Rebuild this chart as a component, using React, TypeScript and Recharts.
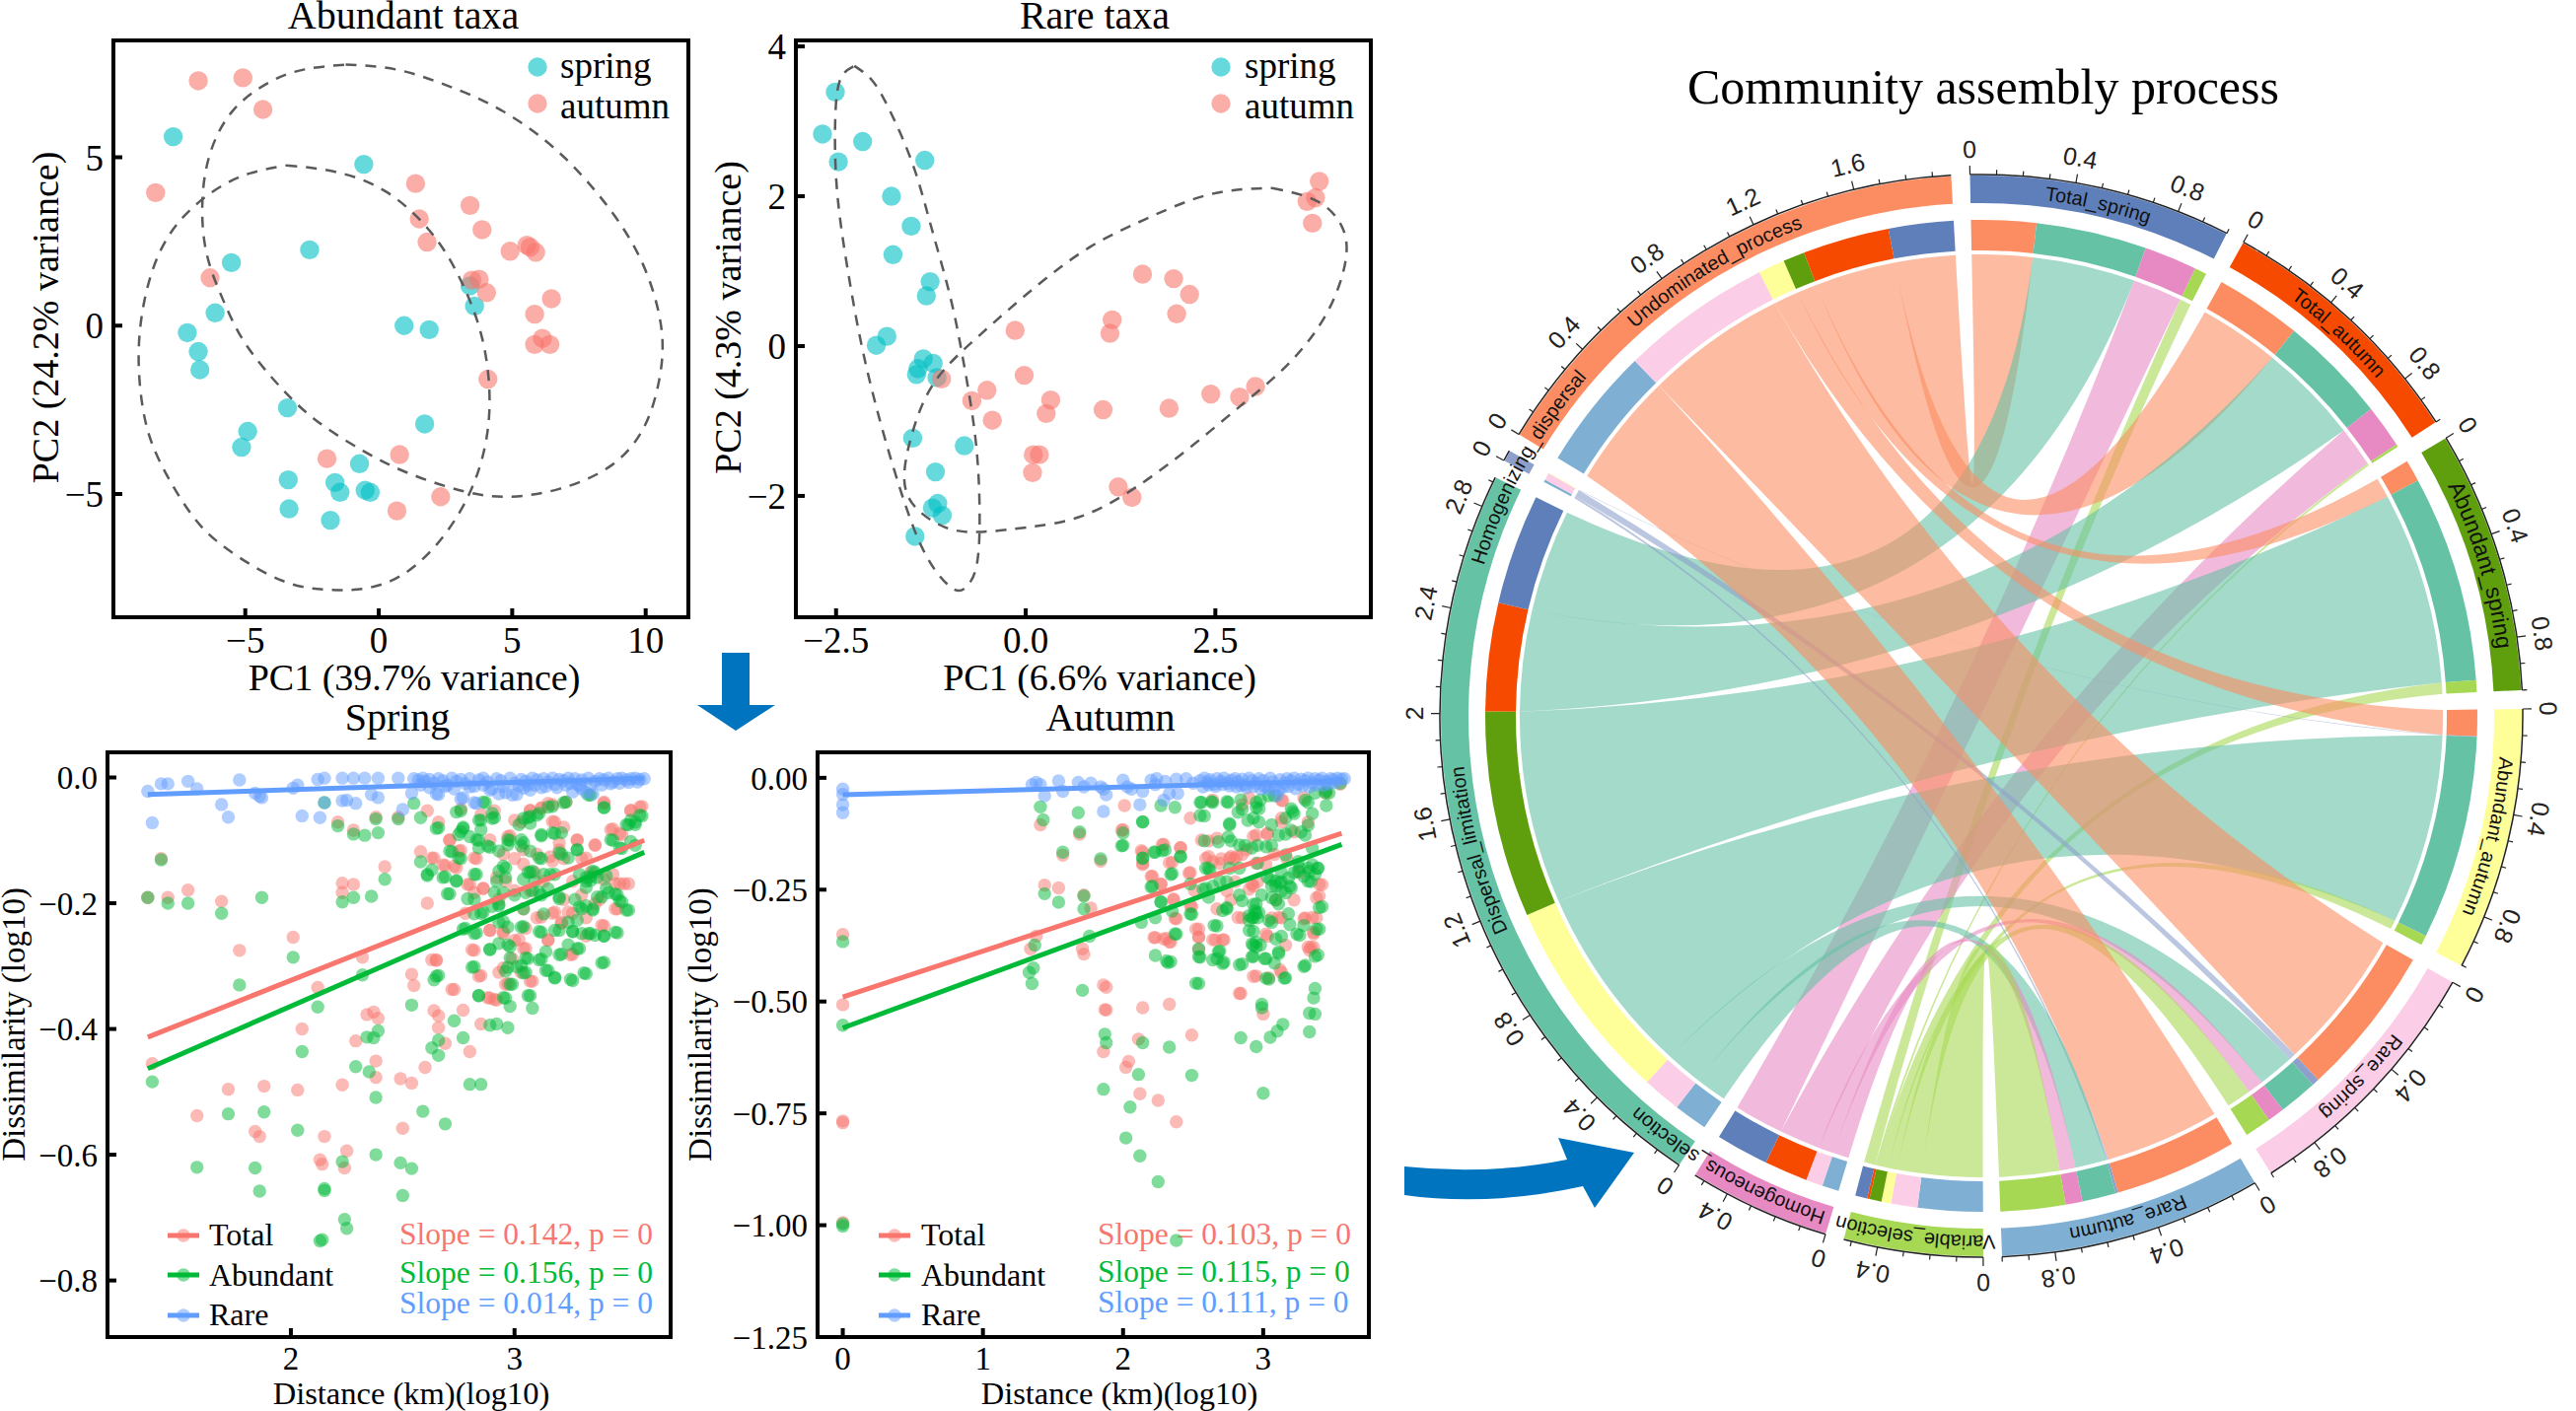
import { ScatterChart, Scatter, XAxis, YAxis, ReferenceArea, PieChart, Pie, Cell } from "recharts";

const W = 2612;
const H = 1431;
const SERIF = "Liberation Serif";
const SANS = "Liberation Sans";

type Pt = [number, number];

// PCA, abundant taxa
const abundantSpring: Pt[] = [[-7.7,5.61],[-.56,4.79],[-2.59,2.25],[-5.52,1.87],[-6.13,.38],[-7.17,-.21],[-6.76,-.77],[-6.7,-1.31],[.95,0],[1.89,-.12],[3.42,1.18],[3.59,.58],[-3.42,-2.44],[1.72,-2.92],[-4.91,-3.14],[-5.14,-3.61],[-.72,-4.1],[-3.39,-4.58],[-1.64,-4.66],[-1.45,-4.95],[-.51,-4.89],[-.32,-4.95],[-3.36,-5.44],[-1.81,-5.78]];
const abundantAutumn: Pt[] = [[-6.76,7.27],[-5.09,7.36],[-4.34,6.42],[-8.36,3.95],[1.38,4.22],[1.52,3.17],[1.81,2.48],[3.42,3.57],[3.87,2.85],[4.92,2.21],[5.55,2.39],[5.67,2.33],[5.88,2.18],[-6.32,1.42],[3.49,1.35],[3.76,1.38],[4.04,.98],[6.47,.8],[5.84,.34],[6.13,-.38],[5.84,-.56],[6.41,-.56],[4.09,-1.59],[.78,-3.83],[-1.94,-3.95],[2.32,-5.08],[.68,-5.5]];
const abundantEllipseAutumn: Pt[] = [[-1.24,7.75],[.63,7.61],[2.5,7.15],[4.38,6.49],[6.25,5.49],[7.79,4.3],[9.15,2.9],[10.09,1.45],[10.6,-.15],[10.51,-1.6],[9.91,-3.06],[8.64,-4.19],[6.76,-4.85],[4.89,-5.08],[3.19,-4.92],[1.14,-4.39],[-.56,-3.73],[-2.27,-2.86],[-3.63,-1.87],[-4.99,-.54],[-5.84,.78],[-6.44,2.11],[-6.61,3.57],[-6.35,5.03],[-5.5,6.35],[-4.14,7.21],[-2.78,7.61],[-1.24,7.75]];
const abundantEllipseSpring: Pt[] = [[-3.46,4.76],[-1.58,4.56],[.29,3.97],[1.82,2.9],[2.84,1.71],[3.7,.12],[4.12,-1.6],[4.04,-3.33],[3.36,-5.05],[2.16,-6.51],[.8,-7.44],[-.56,-7.81],[-1.93,-7.84],[-3.63,-7.57],[-5.67,-6.64],[-7.04,-5.58],[-8.23,-3.99],[-8.82,-2.53],[-8.99,-.68],[-8.65,1.18],[-7.89,2.64],[-6.69,3.7],[-5.16,4.43],[-3.46,4.76]];

// PCA, rare taxa
const rareSpring: Pt[] = [[-2.51,3.39],[-2.68,2.83],[-2.15,2.73],[-2.47,2.46],[-1.33,2.48],[-1.77,2],[-1.51,1.6],[-1.75,1.22],[-1.26,.86],[-1.31,.67],[-1.83,.13],[-1.97,.01],[-1.35,-.17],[-1.22,-.23],[-1.42,-.3],[-1.44,-.38],[-1.17,-.42],[-1.49,-1.23],[-.81,-1.33],[-1.19,-1.68],[-1.16,-2.1],[-1.23,-2.16],[-1.1,-2.26],[-1.46,-2.54]];
const rareAutumn: Pt[] = [[3.87,2.2],[3.82,1.98],[3.71,1.93],[3.78,1.64],[1.54,.96],[1.95,.9],[2.16,.69],[1.99,.43],[1.14,.35],[1.11,.17],[-.14,.21],[-.02,-.39],[-1.11,-.44],[-.51,-.59],[-.71,-.73],[-.44,-.99],[.33,-.72],[.27,-.9],[1.02,-.85],[1.89,-.83],[2.44,-.64],[2.82,-.68],[3.03,-.54],[.18,-1.45],[.1,-1.45],[.09,-1.69],[1.22,-1.88],[1.4,-2.02]];
const rareEllipseSpring: Pt[] = [[-2.26,3.74],[-2.02,3.54],[-1.78,3.12],[-1.48,2.4],[-1.24,1.57],[-1,.68],[-.82,-.21],[-.67,-1.17],[-.61,-2.06],[-.64,-2.89],[-.79,-3.22],[-.94,-3.25],[-1.18,-3.01],[-1.48,-2.42],[-1.84,-1.29],[-2.14,-.1],[-2.35,1.04],[-2.49,2.11],[-2.51,3.06],[-2.44,3.57],[-2.26,3.74]];
const rareEllipseAutumn: Pt[] = [[3.25,2.11],[3.85,1.93],[4.18,1.57],[4.21,1.1],[3.97,.44],[3.49,-.21],[2.89,-.75],[2.17,-1.35],[1.46,-1.88],[.74,-2.27],[.02,-2.42],[-.58,-2.48],[-1.06,-2.42],[-1.48,-2.12],[-1.6,-1.7],[-1.48,-1.11],[-1.18,-.45],[-.58,.17],[.14,.8],[.86,1.33],[1.57,1.69],[2.41,2.02],[3.25,2.11]];

// distance decay, spring
const springTotal: Pt[] = [[1.42,-.129],[1.36,-.191],[1.45,-.191],[1.54,-.179],[1.69,-.197],[1.77,-.275],[2.01,-.254],[1.38,-.455],[1.72,-.496],[1.58,-.538],[1.84,-.563],[1.86,-.571],[1.88,-.491],[2.03,-.497],[2.05,-.4],[2.12,-.334],[2.23,-.489],[2.15,-.571],[2.13,-.608],[2.14,-.615],[2.25,-.594],[2.24,-.621],[2.23,-.168],[2.28,-.17],[2.23,-.183],[2.32,-.286],[2.29,-.419],[2.34,-.377],[2.37,-.373],[2.39,-.383],[2.38,-.451],[2.38,-.477],[2.49,-.479],[2.54,-.486],[2.5,-.558],[2.6,-.461],[2.54,-.313],[2.55,-.331],[2.65,-.291],[2.73,-.337],[2.64,-.371],[2.66,-.379],[2.66,-.398],[2.69,-.423],[2.77,-.37],[2.8,-.436],[2.85,-.392],[2.82,-.275],[2.85,-.315],[2.89,-.351],[2.92,-.354],[2.42,-.142],[2.61,-.2],[2.58,-.118],[2.64,-.128],[2.69,-.14],[2.74,-.144],[2.71,-.1],[2.76,-.116],[2.8,-.17],[2.86,-.176],[2.83,-.129],[2.89,-.243],[2.78,-.216],[2.21,-.071],[2.28,-.084],[2.38,-.063],[2.48,-.063],[2.61,-.053],[2.66,-.071],[2.76,-.05],[2.85,-.059],[2.91,-.053],[2.98,-.093],[3.03,-.071],[3.07,-.053],[3.12,-.048],[3.17,-.043],[3.23,-.039],[3.18,-.071],[3.22,-.079],[3.28,-.1],[3.36,-.108],[3.4,-.039],[3.44,-.082],[3.47,-.089],[3.52,-.053],[3.57,-.046],[2.96,-.165],[3,-.18],[3.04,-.209],[3.09,-.151],[3.13,-.165],[3.17,-.216],[3.22,-.194],[3.26,-.216],[3.3,-.187],[3.34,-.151],[3.4,-.162],[3.45,-.169],[3.51,-.169],[3.46,-.209],[3.4,-.236],[3.32,-.252],[3.26,-.281],[3.21,-.23],[3.15,-.259],[3.1,-.223],[3.05,-.272],[3,-.259],[2.95,-.248],[2.99,-.288],[2.97,-.328],[3.08,-.324],[3.03,-.31],[2.93,-.31],[3.04,-.115],[3.1,-.122],[3.16,-.126],[3.22,-.129],[3.3,-.129],[3,-.129],[3.07,-.18],[2.93,-.194],[3.38,-.194],[3.32,-.223],[3.2,-.115],[3.26,-.165]];
const springTotalDense: Pt[] = [[3.07,-.052],[3.12,-.049],[3.15,-.041],[3,-.068],[3.17,-.07],[2.97,-.094],[2.89,-.099],[2.71,-.099],[2.75,-.117],[2.63,-.128],[2.68,-.139],[2.73,-.141],[2.82,-.128],[2.95,-.122],[3.28,-.099],[3.36,-.107],[3.43,-.083],[3.52,-.052],[3.56,-.047],[3.48,-.091],[3.4,-.041],[3.2,-.104],[3.04,-.138],[3.17,-.133],[3.32,-.128],[2.86,-.177],[2.79,-.17],[2.82,-.183],[2.92,-.159],[3.12,-.222],[3.18,-.214],[3.24,-.214],[3.36,-.201],[3.45,-.209],[3.44,-.154],[3.49,-.169],[3.47,-.169],[3.39,-.235],[2.89,-.243],[2.95,-.245],[3.05,-.24],[2.81,-.274],[2.65,-.29],[2.63,-.29],[3.04,-.272],[3.02,-.258],[3.15,-.258],[3.21,-.232],[3.25,-.282],[2.84,-.316],[2.72,-.337],[3.07,-.324],[2.95,-.303],[2.88,-.35],[2.91,-.353],[2.96,-.329]];
const springAbundant: Pt[] = [[1.42,-.131],[1.36,-.191],[1.45,-.2],[1.54,-.2],[1.69,-.216],[1.77,-.33],[2.01,-.286],[1.38,-.484],[1.72,-.535],[1.58,-.62],[1.84,-.621],[1.86,-.658],[1.88,-.532],[2.03,-.561],[2.05,-.436],[2.12,-.365],[2.23,-.611],[2.15,-.654],[2.15,-.657],[2.24,-.703],[2.25,-.717],[2.13,-.737],[2.14,-.735],[1.87,-.191],[2.23,-.198],[2.28,-.191],[2.36,-.189],[2.42,-.162],[2.21,-.077],[2.28,-.09],[2.33,-.092],[2.39,-.088],[2.38,-.066],[2.48,-.066],[2.15,-.04],[2.55,-.041],[2.58,-.064],[2.66,-.08],[2.32,-.314],[2.34,-.413],[2.37,-.414],[2.39,-.403],[2.29,-.46],[2.35,-.468],[2.38,-.509],[2.38,-.6],[2.49,-.613],[2.54,-.622],[2.5,-.665],[2.59,-.531],[2.69,-.551],[2.54,-.362],[2.64,-.322],[2.66,-.315],[2.63,-.43],[2.66,-.418],[2.66,-.442],[2.73,-.387],[2.77,-.414],[2.8,-.488],[2.85,-.488],[2.89,-.394],[2.92,-.392],[2.97,-.398],[2.84,-.347],[2.96,-.351],[2.98,-.364],[3.07,-.347],[3.08,-.367],[2.82,-.301],[2.89,-.273],[2.97,-.302],[2.99,-.329],[3.03,-.299],[3.05,-.31],[3.06,-.288],[3.12,-.289],[3.15,-.307],[3.18,-.318],[3.26,-.323],[3.32,-.312],[3.4,-.294],[3.46,-.247],[3.51,-.211],[3.4,-.252],[3.34,-.248],[3.29,-.272],[3.21,-.281],[3.26,-.245],[3.2,-.243],[3.12,-.246],[3.04,-.237],[2.95,-.229],[2.83,-.247],[2.78,-.24],[2.82,-.194],[2.71,-.185],[2.74,-.165],[2.69,-.158],[2.61,-.154],[2.58,-.134],[2.63,-.147],[2.72,-.118],[2.76,-.129],[2.83,-.154],[2.76,-.086],[2.77,-.079],[2.85,-.068],[2.91,-.064],[2.87,-.04],[2.76,-.053],[2.84,-.1],[2.89,-.111],[2.98,-.1],[3.04,-.104],[3.12,-.093],[3.18,-.089],[3.02,-.075],[3.06,-.064],[3.11,-.057],[3.17,-.046],[3.23,-.039],[3.34,-.028],[3.4,-.048],[3.44,-.1],[3.51,-.075],[3.54,-.071],[3.57,-.061],[3.54,-.108],[3.48,-.113],[3.28,-.115],[3.21,-.122],[3.12,-.129],[3.06,-.151],[2.96,-.144],[2.92,-.165],[3,-.187],[2.93,-.201],[3.04,-.209],[3.12,-.187],[3.2,-.19],[3.27,-.194],[3.34,-.158],[3.32,-.165],[3.36,-.151],[3.41,-.176],[3.46,-.187],[3.48,-.198],[3.39,-.19],[3.35,-.209],[3.3,-.209],[3.24,-.23],[2.85,-.216],[2.9,-.205],[3.09,-.165],[3.16,-.154],[2.97,-.266]];
const springAbundantDense: Pt[] = [[2.86,-.039],[2.74,-.055],[2.84,-.068],[2.9,-.057],[2.9,-.065],[2.77,-.081],[2.65,-.081],[2.75,-.091],[2.8,-.094],[2.83,-.099],[2.85,-.083],[2.84,-.112],[2.88,-.109],[2.93,-.117],[2.97,-.099],[3.03,-.099],[2.97,-.107],[3.03,-.109],[3.07,-.117],[3.11,-.128],[3.2,-.12],[3.24,-.128],[3.28,-.115],[3.04,-.065],[3.07,-.062],[3.1,-.06],[3.07,-.073],[3.15,-.047],[3.22,-.04],[3.12,-.091],[3.17,-.088],[3.21,-.088],[2.95,-.141],[2.93,-.149],[2.96,-.159],[3.04,-.162],[3.07,-.151],[3.08,-.149],[3.13,-.154],[3.18,-.154],[3.29,-.154],[3.32,-.159],[3.35,-.149],[3.34,-.164],[3.37,-.159],[3.41,-.156],[3.32,-.175],[3.37,-.19],[3.42,-.183],[3.45,-.185],[3.47,-.196],[3.5,-.211],[3.35,-.211],[3.32,-.204],[3.29,-.206],[3.28,-.227],[3.26,-.245],[3.3,-.248],[3.33,-.248],[3.36,-.251],[3.4,-.252],[3.45,-.246],[3.18,-.243],[3.11,-.245],[3.13,-.217],[3.2,-.193],[2.91,-.183],[2.95,-.183],[2.79,-.193],[2.7,-.185],[2.82,-.154],[2.74,-.164],[2.68,-.159],[2.61,-.156],[2.71,-.117],[2.75,-.128],[2.93,-.23],[2.97,-.238],[3.03,-.238],[2.82,-.248],[2.77,-.241],[2.86,-.214],[2.82,-.217],[2.93,-.204],[3.05,-.183],[3.08,-.18],[3.11,-.183],[3.15,-.177],[2.93,-.264],[2.89,-.274],[2.98,-.269],[2.98,-.287],[3.05,-.287],[3.11,-.29],[3.14,-.277],[3.2,-.282],[3.24,-.266],[3.28,-.272],[3.39,-.295],[3.31,-.311],[3.25,-.321],[3.18,-.319],[3.14,-.307],[3.04,-.311],[3.01,-.301],[2.81,-.302],[2.65,-.316],[2.96,-.308],[2.98,-.329],[2.84,-.347],[2.95,-.35],[3.06,-.347],[3.43,-.099],[3.5,-.075],[3.52,-.068],[3.56,-.06],[3.52,-.102],[3.47,-.112],[3.4,-.048],[3.33,-.028],[3.54,-.075]];
const springRare: Pt[] = [[1.36,-.022],[1.38,-.072],[1.42,-.01],[1.45,-.01],[1.54,-.006],[1.58,-.018],[1.69,-.043],[1.72,-.063],[1.77,-.004],[1.84,-.025],[1.86,-.03],[1.87,-.032],[2.01,-.017],[2.03,-.012],[2.05,-.061],[2.12,-.003],[2.13,-.064],[2.15,-.04],[2.15,-.001],[2.23,-.001],[2.28,-.001],[2.33,-.001],[2.39,-.001],[2.48,-.001],[2.23,-.037],[2.25,-.036],[2.29,-.041],[2.36,-.027],[2.39,-.032],[2.5,-.051],[2.54,-.025],[2.66,-.027],[2.77,-.032],[2.83,-.041],[2.55,-.002],[2.57,-.004],[2.59,-.001],[2.6,-.006],[2.62,-.003],[2.64,-.009],[2.66,-.002],[2.68,-.005],[2.7,-.012],[2.72,-.001],[2.74,-.006],[2.76,-.003],[2.78,-.01],[2.8,-.002],[2.82,-.014],[2.84,-.004],[2.86,-.001],[2.88,-.007],[2.9,-.018],[2.92,-.002],[2.94,-.005],[2.96,-.024],[2.98,-.001],[3,-.009],[3.01,-.027],[3.03,-.003],[3.05,-.006],[3.06,-.012],[3.08,-.001],[3.1,-.004],[3.12,-.016],[3.13,-.002],[3.15,-.007],[3.17,-.001],[3.18,-.011],[3.2,-.003],[3.22,-.005],[3.24,-.001],[3.25,-.009],[3.27,-.002],[3.29,-.013],[3.3,-.004],[3.32,-.024],[3.33,-.001],[3.35,-.026],[3.36,-.006],[3.38,-.002],[3.4,-.004],[3.42,-.001],[3.44,-.007],[3.46,-.002],[3.48,-.001],[3.5,-.004],[3.52,-.002],[3.54,-.001],[3.56,-.003],[3.58,-.002],
  [2.65,-.026],[2.76,-.034],[2.82,-.04],[2.93,-.026],[2.99,-.028],[3.07,-.02],[3.26,-.023],[3.3,-.018],[2.58,-.012],[2.62,-.016],[2.69,-.014],[2.73,-.018],[2.8,-.015],[2.86,-.012],[2.89,-.02],[2.95,-.014],[3.02,-.013],[3.04,-.017],[3.09,-.012],[3.14,-.014],[3.19,-.016],[3.23,-.012],[3.28,-.011],[3.34,-.014],[3.39,-.012],[3.43,-.01],[3.47,-.009],[3.51,-.008],[3.55,-.007]];
const springFitTotal: Pt[] = [[1.36,-.413],[3.58,-.1]];
const springFitAbundant: Pt[] = [[1.36,-.463],[3.58,-.119]];
const springFitRare: Pt[] = [[1.36,-.027],[3.58,-.001]];

// distance decay, autumn
const autumnTotal: Pt[] = [[0,-.35],[0,-.507],[0,-.767],[0,-.771],[0,-.994],[1.41,-.105],[1.44,-.24],[1.54,-.246],[1.57,-.173],[1.69,-.126],[1.72,-.262],[1.77,-.291],[1.84,-.186],[1.34,-.382],[1.38,-.354],[1.71,-.382],[1.72,-.394],[1.86,-.463],[1.88,-.468],[1.87,-.518],[1.88,-.519],[1.86,-.612],[2.04,-.634],[2.02,-.647],[2.11,-.584],[2.12,-.706],[2.25,-.721],[2.38,-.769],[2.14,-.514],[2.33,-.506],[2.49,-.575],[2,-.116],[2.01,-.062],[2.14,-.166],[2.14,-.191],[2.21,-.22],[2.27,-.237],[2.29,-.149],[2.35,-.189],[2.41,-.156],[2.48,-.212],[2.23,-.357],[2.31,-.359],[2.34,-.367],[2.36,-.273],[2.38,-.315],[2.49,-.288],[2.54,-.338],[2.54,-.356],[2.54,-.384],[2.66,-.362],[2.72,-.362],[2.84,-.482],[2.95,-.443],[3,-.528],[3.04,-.447],[3.13,-.435],[3.16,-.374],[3.34,-.379],[3.36,-.379],[3.38,-.313],[3.3,-.313],[3.4,-.264],[3.42,-.239],[3.36,-.349],[2.61,-.176],[2.69,-.191],[2.77,-.176],[2.85,-.171],[2.93,-.131],[3.03,-.126],[3.13,-.09],[3.22,-.121],[2.67,-.293],[2.77,-.273],[2.85,-.313],[2.93,-.242],[3.03,-.354],[3.13,-.313],[3.22,-.273],[3.26,-.212],[3.06,-.313],[2.96,-.232],[2.9,-.045],[3.13,-.05],[3.29,-.045],[3.45,-.034],[3.55,-.014],[2.85,-.06],[2.64,-.05],[2.48,-.09],[2.61,-.141],[2.79,-.181],[2.88,-.161],[2.8,-.232],[3.08,-.171],[3.17,-.181],[2.7,-.181],[2.74,-.252],[2.51,-.252],[2.95,-.191],[3.09,-.273]];
const autumnTotalDense: Pt[] = [[2.59,-.18],[2.64,-.187],[2.76,-.18],[2.81,-.176],[2.92,-.238],[2.9,-.249],[3.02,-.194],[3.13,-.099],[3.11,-.312],[3.02,-.349],[2.95,-.128],[3.03,-.124],[3.4,-.238],[3.38,-.268],[3.29,-.315],[3.35,-.312],[3.36,-.345],[3.32,-.378],[3.33,-.385],[3.12,-.429],[2.93,-.444],[2.83,-.482],[2.64,-.362],[2.71,-.362],[2.54,-.356],[2.52,-.338],[2.22,-.357],[2.33,-.367],[2.29,-.36],[2.37,-.314],[2.48,-.286],[2.36,-.271],[2.27,-.238],[2.2,-.22],[2.47,-.213],[2.33,-.19],[2.14,-.194],[2.13,-.163],[2.28,-.149],[2.41,-.156],[2.56,-.139],[2.67,-.135],[1.99,-.117],[2.82,-.312],[3.14,-.051],[3.32,-.099]];
const autumnAbundant: Pt[] = [[0,-.366],[0,-.553],[0,-.997],[0,-1.002],[1.41,-.065],[1.43,-.094],[1.44,-.259],[1.54,-.278],[1.57,-.166],[1.68,-.078],[1.69,-.121],[1.72,-.264],[1.72,-.293],[1.76,-.354],[1.84,-.181],[1.37,-.374],[1.36,-.425],[1.33,-.435],[1.35,-.46],[1.71,-.475],[1.87,-.573],[1.88,-.592],[1.86,-.696],[2.05,-.736],[2.02,-.805],[2.12,-.845],[2.25,-.903],[2.38,-1.034],[2.11,-.663],[2.14,-.592],[2.33,-.602],[2.49,-.665],[2,-.123],[2,-.151],[2.14,-.098],[2.14,-.179],[2.23,-.166],[2.3,-.161],[2.35,-.214],[2.41,-.176],[2.48,-.237],[2.21,-.242],[2.27,-.278],[2.13,-.323],[2.23,-.313],[2.38,-.349],[2.35,-.298],[2.49,-.305],[2.23,-.397],[2.31,-.409],[2.34,-.411],[2.54,-.46],[2.54,-.382],[2.55,-.401],[2.67,-.404],[2.69,-.387],[2.72,-.412],[2.85,-.416],[2.84,-.581],[2.95,-.601],[2.99,-.506],[2.99,-.514],[3,-.705],[3.05,-.58],[3.1,-.566],[3.14,-.551],[3.04,-.45],[3.16,-.447],[3.33,-.568],[3.33,-.526],[3.37,-.528],[3.36,-.492],[3.37,-.471],[3.3,-.419],[3.39,-.396],[3.26,-.352],[3.29,-.33],[3.4,-.338],[3.42,-.288],[2.67,-.331],[2.93,-.343],[2.96,-.313],[2.93,-.374],[2.98,-.374],[3.13,-.354],[3.11,-.389],[3.08,-.414],[3.01,-.404],[2.93,-.399],[3.19,-.328],[3.06,-.323],[2.58,-.141],[2.56,-.055],[2.58,-.085],[2.64,-.055],[2.68,-.143],[2.75,-.055],[2.76,-.105],[2.77,-.141],[2.85,-.07],[2.87,-.151],[2.93,-.09],[2.98,-.05],[3.08,-.04],[3.21,-.075],[3.3,-.05],[3.37,-.034],[3.47,-.034],[3.55,-.012],[3.45,-.062],[3.35,-.08],[3.27,-.121],[3.16,-.126],[3.06,-.151],[2.96,-.151],[2.61,-.202],[2.59,-.247],[2.61,-.267],[2.74,-.232],[2.74,-.293],[2.83,-.262],[2.93,-.283],[2.95,-.303],[2.93,-.313],[2.99,-.262],[3.06,-.242],[3.13,-.232],[3.19,-.242],[3.26,-.202],[3.32,-.202],[3.39,-.202],[3.34,-.232],[3.22,-.212],[3.13,-.212],[3.03,-.222],[3.09,-.273],[3.16,-.257],[2.96,-.191],[2.83,-.202],[2.62,-.207]];
const autumnAbundantDense: Pt[] = [[2.76,-.102],[2.75,-.132],[2.83,-.15],[2.92,-.157],[3.02,-.154],[3.11,-.128],[3.2,-.117],[3.3,-.128],[3.35,-.157],[2.97,-.069],[2.95,-.055],[3.04,-.04],[3.2,-.069],[3.32,-.055],[3.44,-.033],[3.32,-.106],[3.16,-.172],[3.25,-.187],[3.35,-.194],[3.39,-.202],[3.32,-.231],[3.25,-.209],[3.18,-.224],[3.09,-.231],[3.13,-.253],[3.06,-.268],[3.2,-.246],[2.95,-.282],[2.92,-.312],[2.9,-.319],[2.97,-.301],[2.92,-.371],[2.95,-.367],[2.76,-.202],[2.69,-.231],[2.59,-.202],[2.57,-.249],[2.64,-.242],[2.74,-.29],[2.71,-.297],[2.85,-.275],[3.11,-.282],[3.04,-.319],[3.09,-.36],[3.11,-.393],[3.02,-.404],[2.92,-.4],[2.9,-.341],[3.18,-.304],[3.24,-.349],[3.38,-.338],[3.37,-.399],[3.29,-.422],[3.02,-.448],[3.15,-.448],[2.83,-.418],[2.71,-.415],[2.64,-.407],[2.68,-.389],[2.32,-.413],[2.52,-.459],[2.54,-.4],[2.65,-.33],[2.37,-.349],[2.48,-.304],[2.27,-.277],[2.2,-.244],[2.34,-.216],[2.14,-.18],[2.22,-.166],[2.28,-.163],[2.41,-.176],[1.99,-.152],[2.14,-.099],[2.37,-.066],[2.27,-.062],[2.55,-.055],[2.63,-.053],[2.74,-.053],[2.84,-.049],[2.82,-.077],[2.55,-.084],[2.89,-.095],[2.97,-.099],[3.06,-.105],[3.16,-.09],[3.4,-.29],[3.09,-.242],[3.12,-.235],[3.05,-.227],[3.33,-.209],[3.29,-.22],[3.37,-.216],[2.94,-.297],[2.9,-.308],[2.95,-.066],[3.22,-.08],[3.45,-.029],[2.95,-.378]];
const autumnRare: Pt[] = [[0,-.025],[0,-.037],[0,-.06],[0,-.078],[1.35,-.015],[1.38,-.01],[1.41,-.015],[1.44,-.04],[1.54,-.007],[1.57,-.03],[1.68,-.01],[1.72,-.02],[1.77,-.012],[1.84,-.02],[1.86,-.025],[1.88,-.038],[1.86,-.075],[2,-.005],[2.03,-.02],[2.06,-.025],[2.12,-.06],[2.14,-.03],[2.2,-.005],[2.23,-.015],[2.29,-.05],[2.33,-.035],[2.39,-.035],[2.24,-.002],[2.3,-.008],[2.38,-.003],[2.45,-.002],[2.5,-.012],[2.55,-.006],[2.58,-.001],[2.6,-.01],[2.62,-.004],[2.65,-.014],[2.67,-.002],[2.7,-.008],[2.72,-.001],[2.75,-.012],[2.77,-.005],[2.8,-.002],[2.82,-.009],[2.85,-.003],[2.87,-.016],[2.9,-.001],[2.92,-.007],[2.95,-.012],[2.97,-.002],[3,-.006],[3.02,-.018],[3.05,-.001],[3.07,-.009],[3.1,-.04],[3.12,-.004],[3.15,-.012],[3.17,-.002],[3.2,-.007],[3.22,-.001],[3.25,-.014],[3.27,-.003],[3.3,-.006],[3.32,-.001],[3.35,-.011],[3.37,-.002],[3.4,-.005],[3.42,-.001],[3.45,-.008],[3.48,-.002],[3.5,-.004],[3.53,-.001],[3.56,-.003],[3.58,-.002],
  [2.57,-.02],[2.61,-.016],[2.66,-.019],[2.71,-.015],[2.76,-.018],[2.81,-.02],[2.84,-.017],[2.88,-.022],[2.93,-.019],[2.98,-.024],[3.01,-.02],[3.04,-.026],[3.08,-.021],[3.11,-.028],[3.14,-.022],[3.18,-.019],[3.23,-.024],[3.28,-.018],[3.33,-.02],[3.38,-.016],[3.43,-.017],[3.47,-.013],[3.52,-.011]];
const autumnFitTotal: Pt[] = [[0,-.49],[3.56,-.124]];
const autumnFitAbundant: Pt[] = [[0,-.559],[3.56,-.149]];
const autumnFitRare: Pt[] = [[0,-.038],[3.56,-.007]];

// chord diagram: share of each sample by assembly process
const sampleNames = ["Total_spring", "Total_autumn", "Abundant_spring", "Abundant_autumn", "Rare_spring", "Rare_autumn"];
const sampleColors = ["#5E7FB9", "#F54A00", "#5F9F0E", "#FFFF99", "#FBCDE6", "#7FB0D3"];
const processNames = ["Variable_selection", "Homogeneous_selection", "Dispersal_limitation", "Homogenizing_dispersal", "Undominated_process"];
const processColors = ["#A6D854", "#E78AC3", "#66C2A5", "#8DA0CB", "#FC8D62"];
// rows follow sampleNames, columns follow processNames
const linkRows = [
  [.05, .22, .46, 0, .27],
  [.01, .18, .45, 0, .36],
  [.05, 0, .86, 0, .09],
  [.04, 0, .85, .002, .11],
  [.11, .07, .16, .03, .63],
  [.27, .07, .14, .01, .51],
];

const CX = 2009;
const CY = 726;
const R_OUT = 548;
const R_TRACK = 520;
const R_SEG_OUT = 503;
const R_SEG_IN = 472;
const R_LINK = 468;
const GAP = 0.071;
const FIRST_ANGLE = -1.2; // clockwise from 12 o'clock

const toPoints = (pts: Pt[]) => pts.map(([x, y]) => ({ x, y }));
const minusFmt = (digits: number) => (v: number) => (v < 0 ? "\u2212" : "") + Math.abs(v).toFixed(digits);

const dot = (r: number, fill: string, opacity: number) => (p: any) => (
  <circle cx={p.cx} cy={p.cy} r={r} fill={fill} fillOpacity={opacity} />
);
const noDot = () => <g />;

function serifText(x: number, y: number, s: string, size: number, anchor = "middle", fill = "#000", rotate = 0) {
  return (
    <text key={s + x + y} x={x} y={y} fontFamily={SERIF} fontSize={size} textAnchor={anchor} fill={fill}
      transform={rotate ? `rotate(${rotate} ${x} ${y})` : undefined}>{s}</text>
  );
}

interface Frame { l: number; r: number; t: number; b: number; }

function Panel({ frame, xDomain, yDomain, xTicks, yTicks, xDigits, yDigits, fontSize, children, series }: any) {
  const f: Frame = frame;
  return (
    <div style={{ position: "absolute", left: 0, top: 0 }}>
      <ScatterChart width={W} height={H} margin={{ top: f.t, left: f.l - 80, right: W - f.r, bottom: H - f.b - 80 }}>
        <XAxis type="number" dataKey="x" domain={xDomain} ticks={xTicks} height={80} interval={0} axisLine={false}
          tickSize={-9} tickMargin={19} tickLine={{ stroke: "#000", strokeWidth: 4 }} tickFormatter={minusFmt(xDigits)}
          tick={{ fontFamily: SERIF, fontSize, fill: "#000" }} />
        <YAxis type="number" dataKey="y" domain={yDomain} ticks={yTicks} width={80} interval={0} axisLine={false}
          tickSize={-9} tickMargin={19} tickLine={{ stroke: "#000", strokeWidth: 4 }} tickFormatter={minusFmt(yDigits)}
          tick={{ fontFamily: SERIF, fontSize, fill: "#000" }} />
        {series}
        <ReferenceArea x1={xDomain[0]} x2={xDomain[1]} y1={yDomain[0]} y2={yDomain[1]} fill="none" stroke="#000" strokeWidth={4} />
        {children}
      </ScatterChart>
    </div>
  );
}

function pcaSeries(spring: Pt[], autumn: Pt[], eSpring: Pt[], eAutumn: Pt[]) {
  const dash = { stroke: "#5a5a5a", strokeWidth: 2.5, strokeDasharray: "11 9" };
  return [
    <Scatter key="s" data={toPoints(spring)} shape={dot(9.7, "#00BFC4", 0.6)} isAnimationActive={false} />,
    <Scatter key="a" data={toPoints(autumn)} shape={dot(9.7, "#F8766D", 0.6)} isAnimationActive={false} />,
    <Scatter key="es" data={toPoints(eSpring)} line={dash} lineJointType="natural" shape={noDot} isAnimationActive={false} />,
    <Scatter key="ea" data={toPoints(eAutumn)} line={dash} lineJointType="natural" shape={noDot} isAnimationActive={false} />,
  ];
}

function decaySeries(total: Pt[], abundant: Pt[], rare: Pt[], fitT: Pt[], fitA: Pt[], fitR: Pt[]) {
  return [
    <Scatter key="t" data={toPoints(total)} shape={dot(6.7, "#F8766D", 0.5)} isAnimationActive={false} />,
    <Scatter key="a" data={toPoints(abundant)} shape={dot(6.7, "#00BA38", 0.5)} isAnimationActive={false} />,
    <Scatter key="r" data={toPoints(rare)} shape={dot(6.7, "#619CFF", 0.5)} isAnimationActive={false} />,
    <Scatter key="ft" data={toPoints(fitT)} line={{ stroke: "#F8766D", strokeWidth: 5 }} shape={noDot} isAnimationActive={false} />,
    <Scatter key="fa" data={toPoints(fitA)} line={{ stroke: "#00BA38", strokeWidth: 5 }} shape={noDot} isAnimationActive={false} />,
    <Scatter key="fr" data={toPoints(fitR)} line={{ stroke: "#619CFF", strokeWidth: 5 }} shape={noDot} isAnimationActive={false} />,
  ];
}

function pcaLegend(cx: number, tx: number) {
  return (
    <g>
      <circle cx={cx} cy={68} r={9.7} fill="#00BFC4" fillOpacity={0.6} />
      <circle cx={cx} cy={105} r={9.7} fill="#F8766D" fillOpacity={0.6} />
      {serifText(tx, 79, "spring", 37, "start")}
      {serifText(tx, 120, "autumn", 37, "start")}
    </g>
  );
}

function decayLegend(x0: number, tx: number, sx: number, slopes: string[], ys: number[]) {
  const rows = [["Total", "#F8766D", 1253, 1263], ["Abundant", "#00BA38", 1293, 1304], ["Rare", "#619CFF", 1334, 1344]] as const;
  return (
    <g>
      {rows.map(([name, color, y, base]) => (
        <g key={name}>
          <circle cx={x0 + 16} cy={y} r={6.7} fill={color} fillOpacity={0.5} />
          <line x1={x0} x2={x0 + 32} y1={y} y2={y} stroke={color} strokeWidth={5} />
          {serifText(tx, base, name, 32, "start")}
        </g>
      ))}
      {serifText(sx, ys[0], slopes[0], 31.5, "start", "#F8766D")}
      {serifText(sx, ys[1], slopes[1], 31.5, "start", "#00BA38")}
      {serifText(sx, ys[2], slopes[2], 31.5, "start", "#619CFF")}
    </g>
  );
}

// chord layout --------------------------------------------------------------
const sampleTotals = linkRows.map((row) => row.reduce((a, b) => a + b, 0));
const processTotals = processNames.map((_, c) => linkRows.reduce((a, row) => a + row[c], 0));
const sectorValues = [...sampleTotals, ...processTotals];
const sectorNames = [...sampleNames, ...processNames];
const sectorColors = [...sampleColors, ...processColors];
const degPerUnit = 360 / (sectorValues.reduce((a, b) => a + b, 0) + GAP * sectorValues.length);

const sectorStarts: number[] = [];
sectorValues.reduce((acc, v, i) => {
  sectorStarts[i] = acc;
  return acc + (v + GAP) * degPerUnit;
}, FIRST_ANGLE);

const outerData: { value: number; fill: string }[] = [];
sectorValues.forEach((v, i) => {
  outerData.push({ value: v, fill: sectorColors[i] });
  outerData.push({ value: GAP, fill: "none" });
});

// inner ring: sample sectors list processes last to first, process sectors list samples last to first
const innerData: { value: number; fill: string }[] = [];
const sampleLinks: { from: number; to: number; process: number }[][] = [];
linkRows.forEach((row, s) => {
  let a = sectorStarts[s];
  const links: { from: number; to: number; process: number }[] = [];
  for (let p = row.length - 1; p >= 0; p--) {
    if (row[p] === 0) continue;
    const next = a + row[p] * degPerUnit;
    links.push({ from: a, to: next, process: p });
    innerData.push({ value: row[p], fill: processColors[p] });
    a = next;
  }
  sampleLinks.push(links);
  innerData.push({ value: GAP, fill: "none" });
});
const processSpans: Record<string, [number, number]> = {};
processNames.forEach((_, p) => {
  let a = sectorStarts[sampleNames.length + p];
  for (let s = linkRows.length - 1; s >= 0; s--) {
    if (linkRows[s][p] === 0) continue;
    const next = a + linkRows[s][p] * degPerUnit;
    processSpans[s + "-" + p] = [a, next];
    innerData.push({ value: linkRows[s][p], fill: sampleColors[s] });
    a = next;
  }
  innerData.push({ value: GAP, fill: "none" });
});

const rad = (d: number) => (d * Math.PI) / 180;
const polar = (r: number, deg: number): [number, number] => [CX + r * Math.sin(rad(deg)), CY - r * Math.cos(rad(deg))];

function control(a: number, b: number) {
  let d = Math.abs(a - b) % 360;
  let mid = (a + b) / 2;
  if (d > 180) {
    d = 360 - d;
    mid += 180;
  }
  const h = R_LINK * 0.5 * (1 - (d / 180) ** 2);
  const rc = 2 * h - R_LINK * Math.cos(rad(d / 2));
  return polar(rc, mid);
}

function ribbonPath(a1: number, a2: number, b1: number, b2: number) {
  const p = (x: [number, number]) => x[0].toFixed(1) + " " + x[1].toFixed(1);
  const large = (x: number, y: number) => (y - x > 180 ? 1 : 0);
  return `M${p(polar(R_LINK, a1))} A${R_LINK} ${R_LINK} 0 ${large(a1, a2)} 1 ${p(polar(R_LINK, a2))}` +
    ` Q${p(control(a2, b1))} ${p(polar(R_LINK, b1))} A${R_LINK} ${R_LINK} 0 ${large(b1, b2)} 1 ${p(polar(R_LINK, b2))}` +
    ` Q${p(control(b2, a1))} ${p(polar(R_LINK, a1))} Z`;
}

function Ribbons() {
  return (
    <g>
      {sampleLinks.flatMap((links, s) => links.map((l) => {
        const span = processSpans[s + "-" + l.process];
        return <path key={s + "-" + l.process} d={ribbonPath(l.from, l.to, span[0], span[1])} fill={processColors[l.process]} fillOpacity={0.6} />;
      }))}
    </g>
  );
}

// label placement along the track where the picture departs from sector centres
const nameShift: Record<string, number> = { Homogeneous_selection: 5 };
const nameSize: Record<string, number> = { Abundant_spring: 23 };

function ChordAxes() {
  return (
    <svg width={W} height={H} style={{ position: "absolute", left: 0, top: 0 }} fontFamily={SANS}>
      {sectorValues.map((v, i) => {
        const start = sectorStarts[i];
        const end = start + v * degPerUnit;
        const [ax, ay] = polar(R_OUT + 1, start);
        const [bx, by] = polar(R_OUT + 1, end);
        const ticks = [];
        for (let t = 0; t * 0.1 <= v + 1e-6; t++) {
          const th = start + t * 0.1 * degPerUnit;
          const major = t % 4 === 0;
          const [x1, y1] = polar(R_OUT + 1, th);
          const [x2, y2] = polar(R_OUT + (major ? 10 : 6), th);
          const [lx, ly] = polar(R_OUT + 27, th);
          ticks.push(
            <g key={t}>
              <line x1={x1} y1={y1} x2={x2} y2={y2} stroke="#222" strokeWidth={1.2} />
              {major && (
                <text x={lx} y={ly} fontSize={25} textAnchor="middle" dominantBaseline="central" fill="#222"
                  transform={`rotate(${th.toFixed(1)} ${lx.toFixed(1)} ${ly.toFixed(1)})`}>
                  {String(t / 10)}
                </text>
              )}
            </g>
          );
        }
        const mid = (start + end) / 2 + (nameShift[sectorNames[i]] || 0);
        const [px, py] = polar(527, mid - 60);
        const [qx, qy] = polar(527, mid + 60);
        return (
          <g key={i}>
            <path d={`M${ax} ${ay} A${R_OUT + 1} ${R_OUT + 1} 0 0 1 ${bx} ${by}`} fill="none" stroke="#222" strokeWidth={1.5} />
            {ticks}
            <path id={"name-arc-" + i} d={`M${px} ${py} A527 527 0 0 1 ${qx} ${qy}`} fill="none" />
            <text fontSize={nameSize[sectorNames[i]] || 20} fill="#111" textAnchor="middle">
              <textPath href={"#name-arc-" + i} startOffset="50%">{sectorNames[i]}</textPath>
            </text>
          </g>
        );
      })}
    </svg>
  );
}

function Chord() {
  const startAngle = 90 - FIRST_ANGLE;
  const endAngle = startAngle - 360;
  return (
    <div style={{ position: "absolute", left: 0, top: 0 }}>
      <PieChart width={W} height={H} margin={{ top: 0, left: 0, right: 0, bottom: 0 }}>
        <Ribbons />
        <Pie data={outerData} dataKey="value" cx={CX} cy={CY} innerRadius={R_TRACK} outerRadius={R_OUT}
          startAngle={startAngle} endAngle={endAngle} paddingAngle={0} stroke="none" isAnimationActive={false}>
          {outerData.map((d, i) => <Cell key={i} fill={d.fill} />)}
        </Pie>
        <Pie data={innerData} dataKey="value" cx={CX} cy={CY} innerRadius={R_SEG_IN} outerRadius={R_SEG_OUT}
          startAngle={startAngle} endAngle={endAngle} paddingAngle={0} stroke="none" isAnimationActive={false}>
          {innerData.map((d, i) => <Cell key={i} fill={d.fill} />)}
        </Pie>
        {serifText(2011, 105, "Community assembly process", 50)}
      </PieChart>
      <ChordAxes />
    </div>
  );
}

function Arrows() {
  return (
    <svg width={W} height={H} style={{ position: "absolute", left: 0, top: 0 }}>
      <path d="M732 662 H760 V715 H786 L746 741 L707 715 H732 Z" fill="#0174BF" />
      <path d="M1424 1183 Q1510 1192 1589 1176 L1580 1154 L1657 1169 L1617 1225 L1605 1203 Q1510 1224 1424 1212 Z" fill="#0174BF" />
    </svg>
  );
}

export default function App() {
  return (
    <div style={{ position: "absolute", left: 0, top: 0, width: W, height: H, background: "#fff", overflow: "hidden" }}>
      <Panel frame={{ l: 115, r: 698, t: 41, b: 626 }} xDomain={[-9.94, 11.6]} yDomain={[-8.66, 8.47]}
        xTicks={[-5, 0, 5, 10]} yTicks={[-5, 0, 5]} xDigits={0} yDigits={0} fontSize={37}
        series={pcaSeries(abundantSpring, abundantAutumn, abundantEllipseSpring, abundantEllipseAutumn)}>
        {serifText(409, 29, "Abundant taxa", 40)}
        {serifText(420, 700, "PC1 (39.7% variance)", 38)}
        {serifText(59, 322, "PC2 (24.2% variance)", 38, "middle", "#000", -90)}
        {pcaLegend(545, 568)}
      </Panel>
      <Panel frame={{ l: 807, r: 1390, t: 41, b: 626 }} xDomain={[-3.03, 4.55]} yDomain={[-3.62, 4.08]}
        xTicks={[-2.5, 0, 2.5]} yTicks={[-2, 0, 2, 4]} xDigits={1} yDigits={0} fontSize={37}
        series={pcaSeries(rareSpring, rareAutumn, rareEllipseSpring, rareEllipseAutumn)}>
        {serifText(1110, 29, "Rare taxa", 40)}
        {serifText(1115, 700, "PC1 (6.6% variance)", 38)}
        {serifText(751, 322, "PC2 (4.3% variance)", 38, "middle", "#000", -90)}
        {pcaLegend(1238, 1262)}
      </Panel>
      <Panel frame={{ l: 109, r: 680, t: 763, b: 1356 }} xDomain={[1.18, 3.698]} yDomain={[-.89, .04]}
        xTicks={[2, 3]} yTicks={[-.8, -.6, -.4, -.2, 0]} xDigits={0} yDigits={1} fontSize={33}
        series={decaySeries([...springTotal, ...springTotalDense], [...springAbundant, ...springAbundantDense], springRare, springFitTotal, springFitAbundant, springFitRare)}>
        {serifText(403, 741, "Spring", 40)}
        {serifText(417, 1424, "Distance (km)(log10)", 32.5)}
        {serifText(25, 1039, "Dissimilarity (log10)", 33, "middle", "#000", -90)}
        {decayLegend(170, 212, 405, ["Slope = 0.142, p = 0", "Slope = 0.156, p = 0", "Slope = 0.014, p = 0"], [1262, 1301, 1332])}
      </Panel>
      <Panel frame={{ l: 829, r: 1388, t: 763, b: 1356 }} xDomain={[-.18, 3.754]} yDomain={[-1.25, .057]}
        xTicks={[0, 1, 2, 3]} yTicks={[-1.25, -1, -.75, -.5, -.25, 0]} xDigits={0} yDigits={2} fontSize={33}
        series={decaySeries([...autumnTotal, ...autumnTotalDense], [...autumnAbundant, ...autumnAbundantDense], autumnRare, autumnFitTotal, autumnFitAbundant, autumnFitRare)}>
        {serifText(1126, 741, "Autumn", 40)}
        {serifText(1135, 1424, "Distance (km)(log10)", 32.5)}
        {serifText(721, 1039, "Dissimilarity (log10)", 33, "middle", "#000", -90)}
        {decayLegend(891, 934, 1113, ["Slope = 0.103, p = 0", "Slope = 0.115, p = 0", "Slope = 0.111, p = 0"], [1262, 1300, 1331])}
      </Panel>
      <Chord />
      <Arrows />
    </div>
  );
}
